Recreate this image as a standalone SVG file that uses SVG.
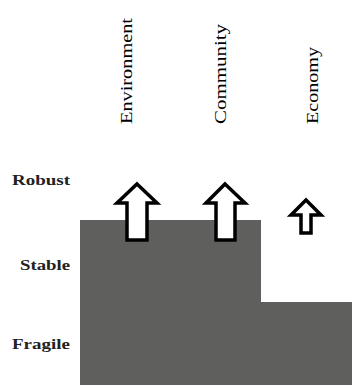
<svg xmlns="http://www.w3.org/2000/svg" width="352" height="385" viewBox="0 0 352 385">
  <style>
    .col { font-family: "Liberation Serif", "Times New Roman", serif; font-size: 16px; fill: #000; }
    .row { font-family: "Liberation Serif", "Times New Roman", serif; font-size: 15px; font-weight: bold; fill: #222; text-anchor: end; }
    .arrow { fill: #fff; stroke: #000; stroke-width: 3.5; stroke-linejoin: miter; }
  </style>
  <rect width="352" height="385" fill="#fff"/>

  <!-- stepped resilience profile -->
  <g id="profile">
    <polygon points="80,220 261,220 261,302 352,302 352,385 80,385" fill="#5f605e"/>
  </g>

  <!-- column headings -->
  <g id="col-environment"><text class="col" transform="translate(132,124) rotate(-90)" textLength="106" lengthAdjust="spacingAndGlyphs">Environment</text></g>
  <g id="col-community"><text class="col" transform="translate(226,124) rotate(-90)" textLength="100" lengthAdjust="spacingAndGlyphs">Community</text></g>
  <g id="col-economy"><text class="col" transform="translate(318,124) rotate(-90)" textLength="77" lengthAdjust="spacingAndGlyphs">Economy</text></g>

  <!-- row labels -->
  <g id="row-robust"><text class="row" x="70" y="185" textLength="58" lengthAdjust="spacingAndGlyphs">Robust</text></g>
  <g id="row-stable"><text class="row" x="70" y="270" textLength="50" lengthAdjust="spacingAndGlyphs">Stable</text></g>
  <g id="row-fragile"><text class="row" x="70" y="349" textLength="58" lengthAdjust="spacingAndGlyphs">Fragile</text></g>

  <!-- trend arrows -->
  <g id="arrows">
    <polygon class="arrow" points="137,184 157,203 147,203 147,240 127,240 127,203 117,203"/>
    <polygon class="arrow" points="225,184 245,203 235,203 235,240 216,240 216,203 206,203"/>
    <polygon class="arrow" points="306,200 321,215 311,215 311,233 301,233 301,215 291,215"/>
  </g>
</svg>
